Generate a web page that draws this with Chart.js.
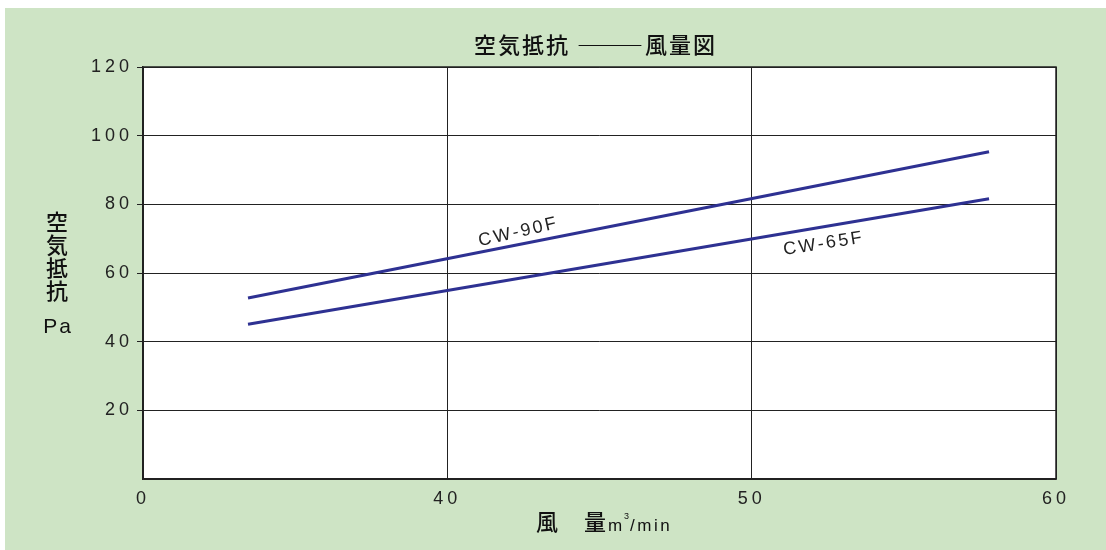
<!DOCTYPE html>
<html>
<head>
<meta charset="utf-8">
<script src="https://cdn.jsdelivr.net/npm/chart.js@4.4.1/dist/chart.umd.min.js"></script>
<style>
  body { margin: 0; background: #fff; }
  #wrap { position: absolute; left: 5px; top: 8px; width: 1101px; height: 542px; background: #cee4c5; }
</style>
</head>
<body>
<div id="wrap"><canvas id="myChart" width="1101" height="542"></canvas></div>
<script>
// data (x axis: "0" stands in for 30, axis is broken)
var series = ['CW-90F', 'CW-65F'];
var flowX = [33.45, 57.8];
var cw90 = [52.7, 95.3];
var cw65 = [45.1, 81.6];
var yTicks = [0, 20, 40, 60, 80, 100, 120];
var xTicks = [30, 40, 50, 60];
var xTickText = ['0', '40', '50', '60'];
// where the series names sit (data coords) and their tilt
var nameX = [42.34, 52.37];
var nameY = [71.9, 68.5];
var nameAngle = [-13, -9];

var lineColor = '#2e3192';
var ink = '#222';

function pts(ys) {
    return flowX.map(function(x, i) { return { x: x, y: ys[i] }; });
}

var spacing = {
    id: 'spacing',
    beforeLayout: function(chart) { chart.ctx.letterSpacing = '4px'; },
    beforeDraw: function(chart) {
        var ctx = chart.ctx, a = chart.chartArea;
        ctx.letterSpacing = '4px';
        ctx.save();
        ctx.fillStyle = '#fff';
        ctx.fillRect(a.left, a.top, a.right - a.left, a.bottom - a.top);
        ctx.restore();
    }
};

var extras = {
    id: 'extras',
    afterDatasetsDraw: function(chart) {
        var ctx = chart.ctx, a = chart.chartArea;
        var sx = chart.scales.x, sy = chart.scales.y;
        ctx.save();
        // top & right frame
        ctx.strokeStyle = ink;
        ctx.lineWidth = 1.5;
        ctx.strokeRect(a.left, a.top, a.right - a.left, a.bottom - a.top);

        // series names along the lines
        ctx.fillStyle = ink;
        ctx.font = '18px "Liberation Sans", Arial, sans-serif';
        ctx.letterSpacing = '2.5px';
        ctx.textAlign = 'center';
        ctx.textBaseline = 'middle';
        for (var i = 0; i < series.length; i++) {
            ctx.save();
            ctx.translate(sx.getPixelForValue(nameX[i]), sy.getPixelForValue(nameY[i]));
            ctx.rotate(nameAngle[i] * Math.PI / 180);
            ctx.fillText(series[i], 0, 0);
            ctx.restore();
        }
        ctx.restore();
    },
    afterDraw: function(chart) {
        var ctx = chart.ctx;
        var cjk = '500 22px "Noto Sans CJK JP", sans-serif';
        ctx.save();
        ctx.fillStyle = '#111';
        ctx.textBaseline = 'middle';

        // title
        ctx.textAlign = 'left';
        ctx.font = cjk;
        ctx.letterSpacing = '2px';
        ctx.fillText('空気抵抗', 469, 37);
        ctx.letterSpacing = '0px';
        ctx.fillText('―――', 572, 37);
        ctx.letterSpacing = '2px';
        ctx.fillText('風量図', 640, 37);

        // y title, stacked
        ctx.textAlign = 'center';
        ctx.letterSpacing = '0px';
        var yt = ['空', '気', '抵', '抗'];
        for (var i = 0; i < yt.length; i++) {
            ctx.fillText(yt[i], 52, 214 + i * 23);
        }
        ctx.font = '21px "Liberation Sans", Arial, sans-serif';
        ctx.letterSpacing = '2px';
        ctx.fillText('Pa', 53, 319);

        // x title
        ctx.textAlign = 'left';
        ctx.font = cjk;
        ctx.letterSpacing = '0px';
        ctx.fillText('風', 531, 514);
        ctx.fillText('量', 579, 514);
        ctx.font = '17px "Liberation Sans", Arial, sans-serif';
        ctx.letterSpacing = '1px';
        ctx.fillText('m', 603, 518);
        ctx.font = '9px "Liberation Sans", Arial, sans-serif';
        ctx.fillText('3', 619, 509);
        ctx.font = '17px "Liberation Sans", Arial, sans-serif';
        ctx.letterSpacing = '2.5px';
        ctx.fillText('/min', 625, 518);
        ctx.restore();
    }
};

var tickFont = { family: '"Liberation Sans", Arial, sans-serif', size: 18 };

var graphique = new Chart(document.getElementById('myChart').getContext('2d'), {
    type: 'line',
    data: {
        datasets: [
            { label: series[0], data: pts(cw90), borderColor: lineColor, borderWidth: 3, pointRadius: 0, fill: false },
            { label: series[1], data: pts(cw65), borderColor: lineColor, borderWidth: 3, pointRadius: 0, fill: false }
        ]
    },
    options: {
        responsive: false,
        animation: false,
        layout: { padding: { top: 59, right: 50, left: 0, bottom: 0 } },
        plugins: { legend: { display: false }, tooltip: { enabled: false } },
        scales: {
            x: {
                type: 'linear',
                min: xTicks[0],
                max: xTicks[xTicks.length - 1],
                afterBuildTicks: function(s) { s.ticks = xTicks.map(function(v) { return { value: v }; }); },
                afterFit: function(s) { s.height = 71; },
                ticks: {
                    font: tickFont, color: ink, padding: 9, maxRotation: 0,
                    callback: function(v) { return xTickText[xTicks.indexOf(v)]; }
                },
                grid: { color: ink, lineWidth: 1, drawTicks: false },
                border: { color: ink, width: 1.5 }
            },
            y: {
                min: 0,
                max: 120,
                afterBuildTicks: function(s) { s.ticks = yTicks.map(function(v) { return { value: v }; }); },
                afterFit: function(s) { s.width = 138; },
                ticks: {
                    font: tickFont, color: ink, padding: 4,
                    callback: function(v) { return v === 0 ? '' : String(v); }
                },
                grid: {
                    color: ink, lineWidth: 1, tickLength: 6,
                    tickColor: function(c) { return c.tick && c.tick.value === 0 ? 'rgba(0,0,0,0)' : ink; }
                },
                border: { color: ink, width: 1.5 }
            }
        }
    },
    plugins: [spacing, extras]
});
</script>
</body>
</html>
